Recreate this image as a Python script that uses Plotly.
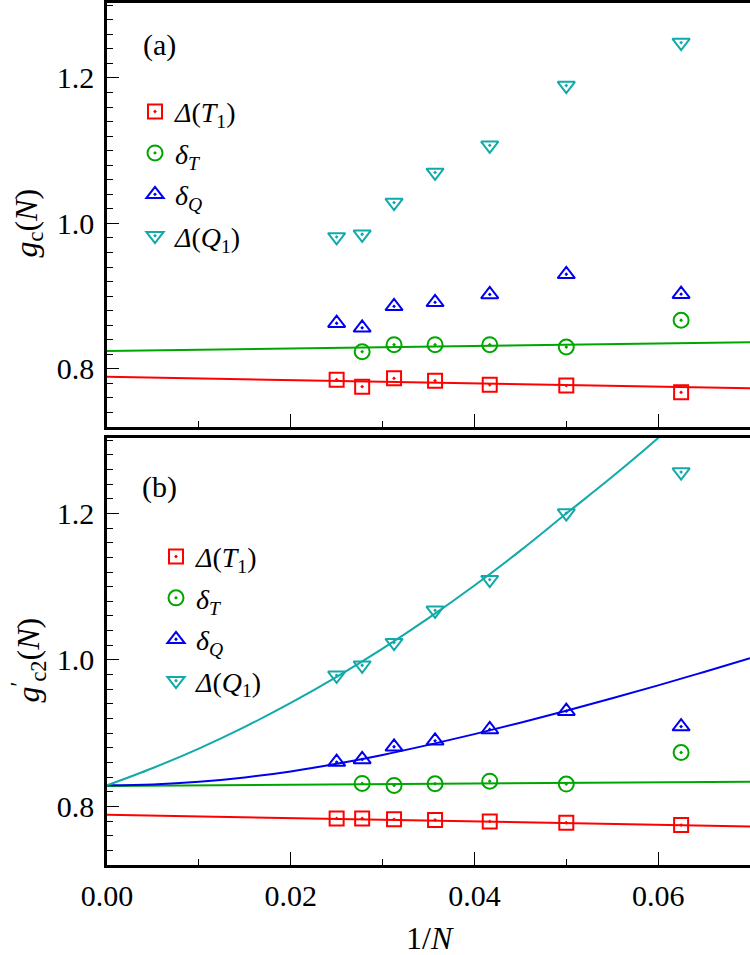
import plotly.graph_objects as go

# ---------------- data ----------------
N_sizes = [40, 36, 32, 28, 24, 20, 16]
inv_N = [1.0 / n for n in N_sizes]

# panel (a): g_c(N)
a_T1 = [0.785, 0.7755, 0.787, 0.7836, 0.778, 0.777, 0.7677]
a_dT = [None, 0.8236, 0.8332, 0.8332, 0.8332, 0.830, 0.8668]
a_dQ = [0.8627, 0.8564, 0.8859, 0.8914, 0.9023, 0.930, 0.9027]
a_Q1 = [0.9814, 0.985, 1.0286, 1.070, 1.1073, 1.1895, 1.2486]

# panel (b): g'_c2(N)
b_T1 = [0.7836, 0.7836, 0.7823, 0.7814, 0.7795, 0.7777, 0.7745]
b_dT = [None, 0.8314, 0.8286, 0.8309, 0.8345, 0.8305, 0.8736]
b_dQ = [0.8605, 0.8641, 0.8814, 0.8895, 0.905, 0.930, 0.909]
b_Q1 = [0.979, 0.9927, 1.0236, 1.0677, 1.1096, 1.2005, 1.2564]

# fitted lines / curves
fit_x_lin = [0.0, 0.07]
a_T1_fit = [0.789, 0.7732]
a_dT_fit = [0.8245, 0.8364]
b_T1_fit = [0.7886, 0.7727]
b_dT_fit = [0.8280, 0.8337]

curve_x = [0.0, 0.005, 0.01, 0.015, 0.02, 0.025, 0.03, 0.035, 0.04,
           0.045, 0.05, 0.055, 0.06, 0.065, 0.07]
b_dQ_fit = [0.8288, 0.8300, 0.8336, 0.8396, 0.8478, 0.8582, 0.8703, 0.8840,
            0.8987, 0.9143, 0.9306, 0.9476, 0.9652, 0.9836, 1.0025]
curve_x_q1 = [0.0, 0.005, 0.01, 0.015, 0.02, 0.025, 0.03, 0.035, 0.04,
              0.045, 0.05, 0.055, 0.06, 0.065]
b_Q1_fit = [0.8288, 0.8525, 0.8790, 0.9086, 0.9412, 0.9768, 1.0154, 1.0570,
            1.1016, 1.1492, 1.1998, 1.2500, 1.3030, 1.3600]

series_names = ["<i>Δ</i>(<i>T</i><sub>1</sub>)",
                "<i>δ</i><sub><i>T</i></sub>",
                "<i>δ</i><sub><i>Q</i></sub>",
                "<i>Δ</i>(<i>Q</i><sub>1</sub>)"]
colors = ["#ff0000", "#00a600", "#0000f0", "#10aaaa"]
symbols = ["square-open-dot", "circle-open-dot", "triangle-up-open-dot", "triangle-down-open-dot"]
sizes = [14, 15, 15, 15]

FONT = "Liberation Serif"

fig = go.Figure()

# fit lines
for xs, ys, c, xa, ya in [
    (fit_x_lin, a_T1_fit, colors[0], "x", "y"),
    (fit_x_lin, a_dT_fit, colors[1], "x", "y"),
    (fit_x_lin, b_T1_fit, colors[0], "x2", "y2"),
    (fit_x_lin, b_dT_fit, colors[1], "x2", "y2"),
    (curve_x, b_dQ_fit, colors[2], "x2", "y2"),
    (curve_x_q1, b_Q1_fit, colors[3], "x2", "y2"),
]:
    fig.add_trace(go.Scatter(x=xs, y=ys, mode="lines", xaxis=xa, yaxis=ya,
                             line=dict(color=c, width=2, shape="spline"),
                             showlegend=False, hoverinfo="skip"))

# markers
for panel, data, xa, ya, leg in [
    ("a", [a_T1, a_dT, a_dQ, a_Q1], "x", "y", "legend"),
    ("b", [b_T1, b_dT, b_dQ, b_Q1], "x2", "y2", "legend2"),
]:
    for i, ys in enumerate(data):
        fig.add_trace(go.Scatter(
            x=inv_N, y=ys, mode="markers", xaxis=xa, yaxis=ya,
            name=series_names[i], legend=leg, legendgroup=panel + str(i),
            marker=dict(symbol=symbols[i], size=sizes[i], color=colors[i],
                        line=dict(color=colors[i], width=2)),
        ))

axis_common = dict(showline=True, linecolor="black", linewidth=2.5,
                   showgrid=False, zeroline=False, ticks="inside",
                   tickcolor="black", tickwidth=1.3,
                   tickfont=dict(family=FONT, size=30, color="black"))

yax = dict(axis_common, range=[0.72, 1.303], dtick=0.2, tick0=0, tickformat=".1f",
           ticklen=12, mirror=False, ticklabelstandoff=4,
           minor=dict(dtick=0.02, tick0=0, ticklen=6, ticks="inside",
                      tickcolor="black", tickwidth=1.3))
xax = dict(axis_common, range=[0, 0.07], dtick=0.02, tick0=0, tickformat=".2f",
           ticklen=13, mirror=True, ticklabelstandoff=2,
           minor=dict(dtick=0.01, tick0=0, ticklen=6, ticks="inside",
                      tickcolor="black", tickwidth=1.3))

H0 = 865.0
plot_h = 864.0
fig.update_layout(
    width=750, height=955,
    margin=dict(l=107, r=0, t=1, b=90),
    paper_bgcolor="white", plot_bgcolor="white",
    xaxis=dict(xax, anchor="y", showticklabels=False, matches="x2"),
    yaxis=dict(yax, domain=[(H0 - 426) / plot_h, 1.0], anchor="x"),
    xaxis2=dict(xax, anchor="y2"),
    yaxis2=dict(yax, domain=[0.0, (H0 - 437) / plot_h], anchor="x2"),
    legend=dict(x=(135 - 107) / 643, y=(H0 - 85) / plot_h, xanchor="left", yanchor="top",
                bgcolor="rgba(0,0,0,0)", tracegroupgap=2,
                font=dict(family=FONT, size=28, color="black")),
    legend2=dict(x=(156 - 107) / 643, y=(H0 - 531) / plot_h, xanchor="left", yanchor="top",
                 bgcolor="rgba(0,0,0,0)", tracegroupgap=2,
                 font=dict(family=FONT, size=28, color="black")),
    font=dict(family=FONT, color="black"),
)

annots = [
    dict(text="(a)", x=(159 - 107) / 643, y=(H0 - 43) / plot_h, font_size=30),
    dict(text="(b)", x=(159 - 107) / 643, y=(H0 - 486) / plot_h, font_size=30),
    dict(text="<i>g</i><sub>c</sub>(<i>N</i>)", x=(28 - 107) / 643, y=(H0 - 222) / plot_h,
         textangle=-90, font_size=32),
    dict(text="<i>g</i><sup>′</sup><sub>c2</sub>(<i>N</i>)", x=(28 - 107) / 643,
         y=(H0 - 660) / plot_h, textangle=-90, font_size=32),
    dict(text="1/<i>N</i>", x=(430 - 107) / 643, y=(H0 - 938) / plot_h, font_size=32),
]
for a in annots:
    fig.add_annotation(xref="paper", yref="paper", showarrow=False,
                       xanchor="center", yanchor="middle",
                       font=dict(family=FONT, color="black", size=a.pop("font_size")), **a)

fig.write_html("out.html", config={"displayModeBar": False},
               post_script="document.body.style.margin='0';")
